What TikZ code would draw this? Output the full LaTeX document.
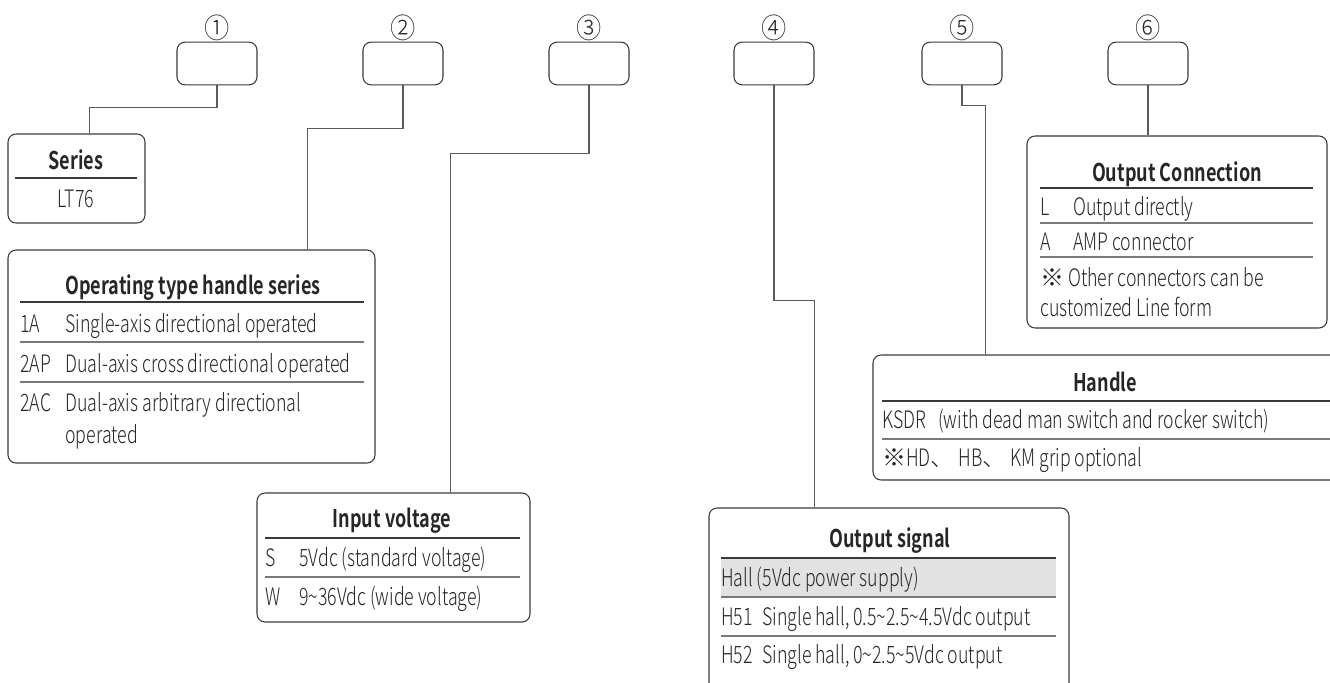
\documentclass[tikz,border=0pt]{standalone}
\usepackage{fontspec}
\setmainfont{Noto Sans CJK SC}[UprightFont=* Light, BoldFont=* Bold, FakeStretch=0.74]
\newfontfamily\numfont{Noto Sans CJK SC}[UprightFont=* Light, FakeStretch=0.9]
\newfontfamily\cjk{Noto Sans CJK SC}[UprightFont=* Light]
\usetikzlibrary{calc}

\definecolor{inkgray}{HTML}{262626}
\definecolor{boxgray}{HTML}{3A3A3A}
\definecolor{wiregray}{HTML}{5A5A5A}
\definecolor{rulegray}{HTML}{7A7A7A}
\definecolor{rowfill}{HTML}{E2E2E2}

% panel of given corners: name, x1, y1, x2, y2 (pixels)
\newcommand{\panelbox}[5]{%
  \node[panel, minimum width={(#4-#2)*0.75pt}, minimum height={(#5-#3)*0.75pt}] (#1) at ({(#2+#4)/2},{(#3+#5)/2}) {};}

\begin{document}
\begin{tikzpicture}[x=0.75pt, y=-0.75pt,
    slot/.style={draw=boxgray, line width=0.8pt, rounded corners=6pt, minimum width=60pt, minimum height=32pt, inner sep=0pt},
    panel/.style={draw=boxgray, line width=0.8pt, rounded corners=6pt, inner sep=0pt},
    wire/.style={draw=wiregray, line width=0.8pt},
    headrule/.style={draw=boxgray, line width=0.8pt},
    rowrule/.style={draw=rulegray, line width=0.8pt},
    num/.style={font=\numfont\fontsize{21}{21}\selectfont, text=inkgray, inner sep=0pt},
    head/.style={font=\bfseries\fontsize{18.3}{22}\selectfont, text=inkgray, inner sep=0pt, anchor=base},
    txt/.style={font=\fontsize{18}{22}\selectfont, text=inkgray, inner sep=0pt, anchor=base west},
    ctxt/.style={font=\fontsize{18}{22}\selectfont, text=inkgray, inner sep=0pt, anchor=base}]
  \useasboundingbox (0,0) rectangle (1330,682);

  % Code slots with their numbers
  \foreach \i/\cx/\lab in {1/217/①, 2/403/②, 3/589/③, 4/774/④, 5/962/⑤, 6/1148/⑥} {
    \node[slot] (s\i) at (\cx,63.5) {};
    \node[num] (n\i) at (\cx,28) {\lab};
  }

  % Series
  \panelbox{series}{8}{134}{145}{223}
  \node[head] (serieshead) at (76,169) {Series};
  \draw[headrule] (15,178) -- (137,178);
  \node[ctxt] (seriesval) at (76,207) {LT76};

  % Operating type handle series
  \panelbox{oper}{8}{250}{375}{463}
  \node[head] (operhead) at (193,294) {Operating type handle series};
  \draw[headrule] (20,302) -- (364,302);
  \draw[rowrule] (20,342) -- (364,342);
  \draw[rowrule] (20,382) -- (364,382);
  \node[txt] (op1c) at (20,332) {1A};
  \node[txt] (op1d) at (65,332) {Single-axis directional operated};
  \node[txt] (op2c) at (20,372) {2AP};
  \node[txt] (op2d) at (65,372) {Dual-axis cross directional operated};
  \node[txt] (op3c) at (20,411) {2AC};
  \node[txt] (op3d) at (65,411) {Dual-axis arbitrary directional};
  \node[txt] (op3e) at (65,443) {operated};

  % Input voltage
  \panelbox{volt}{257}{493}{530}{622}
  \node[head] (volthead) at (392,527) {Input voltage};
  \draw[headrule] (265,538) -- (520,538);
  \draw[rowrule] (265,577) -- (520,577);
  \node[txt] (v1c) at (265,566) {S};
  \node[txt] (v1d) at (299,566) {5Vdc (standard voltage)};
  \node[txt] (v2c) at (265,605) {W};
  \node[txt] (v2d) at (299,605) {9\textasciitilde36Vdc (wide voltage)};

  % Output signal (runs past the lower edge)
  \fill[rowfill] (721,558) rectangle (1056,597);
  \panelbox{signal}{709}{508}{1069}{720}
  \node[head] (signalhead) at (890,547) {Output signal};
  \draw[headrule] (721,558) -- (1056,558);
  \draw[rowrule] (721,597) -- (1056,597);
  \draw[rowrule] (721,636) -- (1056,636);
  \node[txt] (sg0) at (721,586) {Hall (5Vdc power supply)};
  \node[txt] (sg1c) at (721,625) {H51};
  \node[txt] (sg1d) at (762,625) {Single hall, 0.5\textasciitilde2.5\textasciitilde4.5Vdc output};
  \node[txt] (sg2c) at (721,663) {H52};
  \node[txt] (sg2d) at (762,663) {Single hall, 0\textasciitilde2.5\textasciitilde5Vdc output};

  % Handle (runs past the right edge)
  \panelbox{handle}{873}{355}{1350}{480}
  \node[head] (handlehead) at (1105,391) {Handle};
  \draw[headrule] (882,401) -- (1330,401);
  \draw[rowrule] (882,439) -- (1330,439);
  \node[txt] (h1c) at (882,428) {KSDR};
  \node[txt] (h1d) at (938,428) {(with dead man switch and rocker switch)};
  \node[txt] (h2) at (882,466) {{\cjk ※}HD{\cjk 、} HB{\cjk 、} KM grip optional};

  % Output Connection
  \panelbox{conn}{1027}{136}{1327}{328}
  \node[head] (connhead) at (1177,181) {Output Connection};
  \draw[headrule] (1040,188) -- (1313,188);
  \draw[rowrule] (1040,223) -- (1313,223);
  \draw[rowrule] (1040,257) -- (1313,257);
  \node[txt] (c1c) at (1040,215) {L};
  \node[txt] (c1d) at (1073,215) {Output directly};
  \node[txt] (c2c) at (1040,250) {A};
  \node[txt] (c2d) at (1073,250) {AMP connector};
  \node[txt] (c3) at (1040,286) {{\cjk ※} Other connectors can be};
  \node[txt] (c4) at (1040,316) {customized Line form};

  % Connectors
  \draw[wire] (s1.south) -- ++(0,22) -| ($(series.north west)+(82,0)$);
  \draw[wire] (s2.south) -- ++(0,43) -| ($(oper.north west)+(300,0)$);
  \draw[wire] (s3.south) -- ++(0,68) -| ($(volt.north west)+(194,0)$);
  \draw[wire] (s4.south) -- ++(0,215) -| ($(signal.north west)+(106,0)$);
  \draw[wire] (s5.south) -- ++(0,20) -| ($(handle.north west)+(113,0)$);
  \draw[wire] (s6.south) -- (s6.south |- conn.north);
\end{tikzpicture}
\end{document}
